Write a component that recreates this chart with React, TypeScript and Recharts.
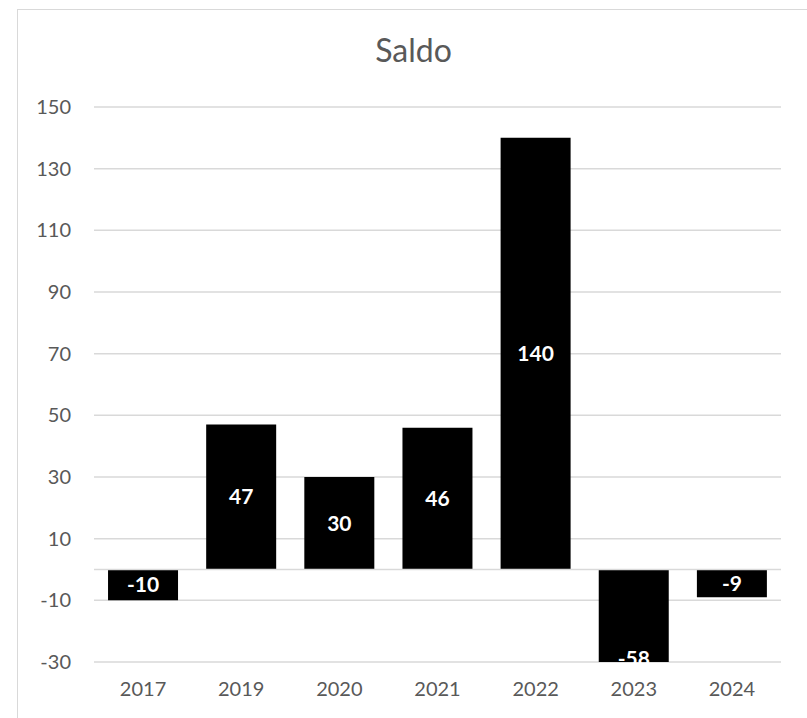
import { Bar, BarChart, CartesianGrid, LabelList, ReferenceLine, XAxis, YAxis } from 'recharts';

const YEARS = ['2017', '2019', '2020', '2021', '2022', '2023', '2024'];
const SALDO = [-10, 47, 30, 46, 140, -58, -9];
const Y_TICKS = [-30, -10, 10, 30, 50, 70, 90, 110, 130, 150];

const FONT = 'Lato, "Open Sans", sans-serif';

export default function App() {
    const chartData = YEARS.map((year, i) => ({ year, saldo: SALDO[i] }));

    return (
        <div style={{ position: 'absolute', left: 0, top: 0, width: 807, height: 718, background: '#fff', overflow: 'hidden' }}>
            {/* chart frame, cut off on the right and bottom like the reference */}
            <div
                style={{
                    position: 'absolute',
                    left: 17,
                    top: 9,
                    width: 820,
                    height: 720,
                    borderLeft: '1px solid #d9d9d9',
                    borderTop: '1px solid #d9d9d9',
                }}
            />
            <div
                style={{
                    position: 'absolute',
                    left: 0,
                    width: 827,
                    top: 31,
                    textAlign: 'center',
                    fontFamily: FONT,
                    fontSize: 32,
                    color: '#595959',
                    lineHeight: '38px',
                }}
            >
                Saldo
            </div>
            <div style={{ position: 'absolute', left: 0, top: 0 }}>
                <BarChart
                    width={807}
                    height={718}
                    data={chartData}
                    margin={{ top: 107, right: 26, left: 0, bottom: 0 }}
                    barCategoryGap="14.3%"
                >
                    <CartesianGrid vertical={false} stroke="#d9d9d9" strokeWidth={1.5} />
                    <XAxis
                        dataKey="year"
                        axisLine={false}
                        tickLine={false}
                        tickSize={0}
                        tickMargin={20}
                        height={56}
                        tick={{ fill: '#595959', fontSize: 20, fontFamily: FONT }}
                    />
                    <YAxis
                        width={94}
                        domain={[-30, 150]}
                        ticks={Y_TICKS}
                        allowDataOverflow
                        axisLine={false}
                        tickLine={false}
                        tickSize={0}
                        tickMargin={23}
                        tick={{ fill: '#595959', fontSize: 20, fontFamily: FONT }}
                    />
                    <ReferenceLine y={0} stroke="#d9d9d9" strokeWidth={1.5} />
                    <Bar dataKey="saldo" fill="#000" isAnimationActive={false}>
                        <LabelList
                            dataKey="saldo"
                            position="center"
                            fill="#fff"
                            style={{ fontSize: 21, fontWeight: 700, fontFamily: FONT }}
                        />
                    </Bar>
                </BarChart>
            </div>
        </div>
    );
}
